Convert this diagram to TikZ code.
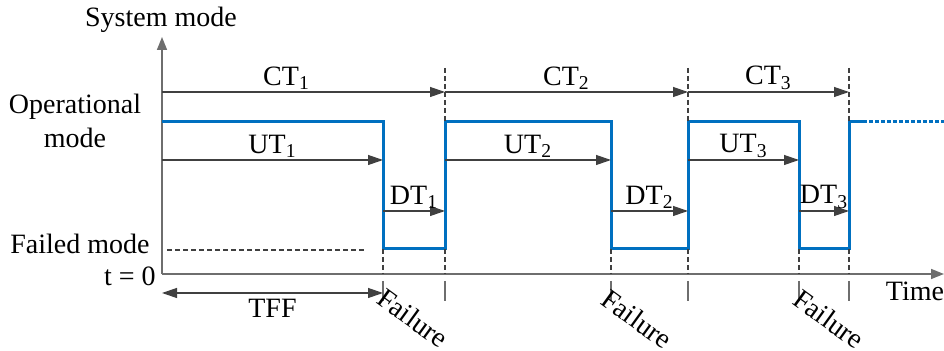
\documentclass[tikz,border=0pt]{standalone}
\usepackage{fontspec}
\setmainfont{Liberation Serif}
\usetikzlibrary{arrows.meta}
\definecolor{signalblue}{RGB}{0,112,192}
\definecolor{linegray}{RGB}{64,64,64}
\definecolor{axisgray}{RGB}{110,110,110}
\tikzset{
	lbl/.style={
		font=\fontsize{14}{17}\selectfont,
		inner sep=1pt
	},
	failtext/.style={
		font=\fontsize{14}{17}\selectfont,
		inner sep=0pt,
		rotate=-36
	},
	axis/.style={
		draw=axisgray,
		line width=0.75pt,
		-{Triangle[length=6.5pt,width=5pt]}
	},
	interval/.style={
		draw=linegray,
		line width=0.6pt,
		-{Triangle[length=7.5pt,width=5pt]}
	},
	span/.style={
		draw=linegray,
		line width=0.6pt,
		{Triangle[length=7.5pt,width=5pt]}-{Triangle[length=7.5pt,width=5pt]}
	},
	signal/.style={
		draw=signalblue,
		line width=1.5pt
	},
	marker/.style={
		draw=linegray,
		line width=1pt,
		dash pattern=on 2.5pt off 1.5pt
	},
	idle/.style={
		draw=linegray,
		line width=0.75pt,
		dash pattern=on 2.5pt off 1.5pt
	},
	timetick/.style={
		draw=axisgray,
		line width=0.6pt
	}
}

\begin{document}
\begin{tikzpicture}[x=0.5pt,y=-0.5pt]
\useasboundingbox (0,0) rectangle (944,351);

% instants on the time axis
\coordinate (t0) at (162,274);
\coordinate (f1) at (383,274);
\coordinate (r1) at (445,274);
\coordinate (f2) at (611,274);
\coordinate (r2) at (688,274);
\coordinate (f3) at (799,274);
\coordinate (r3) at (849,274);
\coordinate (tend) at (944,274);
\coordinate (ytop) at (162,37);

% levels
\coordinate (mk) at (0,68);
\coordinate (ct) at (0,92);
\coordinate (up) at (0,122);
\coordinate (ut) at (0,160);
\coordinate (dt) at (0,211);
\coordinate (dn) at (0,249);
\coordinate (tk) at (0,281);
\coordinate (tkb) at (0,301);
\coordinate (tff) at (0,293);

% axes
\draw[axis] (t0) -- (tend);
\draw[axis] (t0) -- (ytop);
\node[lbl, anchor=base] (sysmode) at (161,27) {System mode};
\node[lbl, anchor=base] (time) at (915,301) {Time};
\node[lbl, anchor=base east] (tzero) at (158,286) {t = 0};
\node[lbl, align=center] (opmode) at (75,121) {Operational\\mode};
\node[lbl, anchor=base east] (failmode) at (152,254) {Failed mode};

\coordinate (idle0) at (167,250);
\coordinate (idle1) at (367,250);
\draw[idle] (idle0) -- (idle1);

% operating / failed signal
\draw[signal] (t0 |- up) -- (f1 |- up) -- (f1 |- dn) -- (r1 |- dn) -- (r1 |- up)
	-- (f2 |- up) -- (f2 |- dn) -- (r2 |- dn) -- (r2 |- up)
	-- (f3 |- up) -- (f3 |- dn) -- (r3 |- dn) -- (r3 |- up) -- ++(14,0) coordinate (go);
\draw[signal, dash pattern=on 2pt off 1pt] (go) -- (tend |- up);

% cycle boundaries
\foreach \p in {r1,r2,r3}
	\draw[marker] (\p |- mk) -- (\p |- up);
\foreach \p in {f1,r1,f2,r2,f3,r3}{
	\draw[marker] (\p |- dn) -- (\p);
	\draw[timetick] (\p |- tk) -- (\p |- tkb);
}

% cycle, up and down times
\draw[interval] (t0 |- ct) -- node[lbl, above, pos=0.44] (ct1) {CT\textsubscript{1}} (r1 |- ct);
\draw[interval] (r1 |- ct) -- node[lbl, above] (ct2) {CT\textsubscript{2}} (r2 |- ct);
\draw[interval] (r2 |- ct) -- node[lbl, above] (ct3) {CT\textsubscript{3}} (r3 |- ct);

\draw[interval] (t0 |- ut) -- node[lbl, above] (ut1) {UT\textsubscript{1}} (f1 |- ut);
\draw[interval] (r1 |- ut) -- node[lbl, above] (ut2) {UT\textsubscript{2}} (f2 |- ut);
\draw[interval] (r2 |- ut) -- node[lbl, above] (ut3) {UT\textsubscript{3}} (f3 |- ut);

\draw[interval] (f1 |- dt) -- node[lbl, above] (dt1) {DT\textsubscript{1}} (r1 |- dt);
\draw[interval] (f2 |- dt) -- node[lbl, above] (dt2) {DT\textsubscript{2}} (r2 |- dt);
\draw[interval] (f3 |- dt) -- node[lbl, above] (dt3) {DT\textsubscript{3}} (r3 |- dt);

\draw[span] (t0 |- tff) -- node[lbl, below=2pt] (ttff) {TFF} (f1 |- tff);

% failure instants
\node[failtext] (fail1) at (413,318) {Failure};
\node[failtext] (fail2) at (637,319) {Failure};
\node[failtext] (fail3) at (829,319) {Failure};
\end{tikzpicture}
\end{document}
